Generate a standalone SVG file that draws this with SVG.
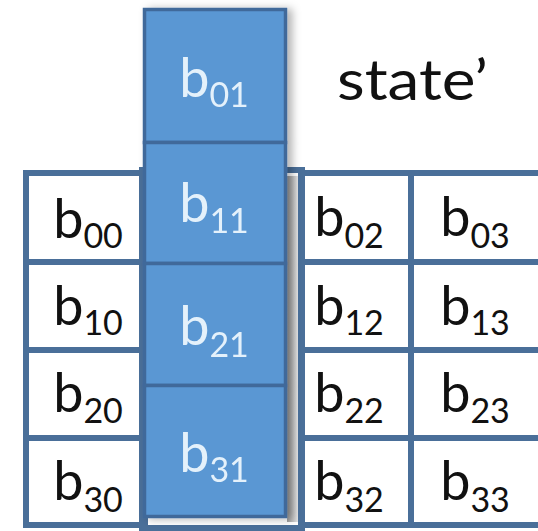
<svg xmlns="http://www.w3.org/2000/svg" width="538" height="531" viewBox="0 0 538 531">
  <style>
    .cell { fill: #ffffff; stroke: #4a6f99; stroke-width: 6; }
    .blue { fill: #5a97d3; stroke: #41699a; stroke-width: 3.5; }
    .lbl { font-family: Lato, "Liberation Sans", sans-serif; font-size: 54px; fill: #111111; text-anchor: middle; }
    .lblw { font-family: Lato, "Liberation Sans", sans-serif; font-size: 54px; fill: #e4f1fb; text-anchor: middle; }
    .sub { font-size: 34px; }
    .title { font-family: Lato, "Liberation Sans", sans-serif; font-size: 56px; fill: #111111; }
  </style>
  <defs>
    <filter id="shadow" x="-20%" y="-10%" width="140%" height="120%">
      <feDropShadow dx="5" dy="1" stdDeviation="4" flood-color="#000000" flood-opacity="0.3"/>
    </filter>
    <linearGradient id="gstrip" x1="0" y1="0" x2="1" y2="0">
      <stop offset="0" stop-color="#9c9c9c"/>
      <stop offset="1" stop-color="#e2e2e2"/>
    </linearGradient>
  </defs>
  <rect width="538" height="531" fill="#ffffff"/>

  <text class="title" x="337" y="100" textLength="151" lengthAdjust="spacingAndGlyphs">state’</text>

  <g id="grid">
    <g id="c00"><rect class="cell" x="26" y="173" width="119" height="89"/><text class="lbl" x="88" y="238">b<tspan class="sub" dy="10">00</tspan></text></g>
    <g id="c10"><rect class="cell" x="26" y="262" width="119" height="88"/><text class="lbl" x="88" y="325">b<tspan class="sub" dy="10">10</tspan></text></g>
    <g id="c20"><rect class="cell" x="26" y="350" width="119" height="88"/><text class="lbl" x="88" y="412">b<tspan class="sub" dy="11">20</tspan></text></g>
    <g id="c30"><rect class="cell" x="26" y="438" width="119" height="87"/><text class="lbl" x="88" y="500">b<tspan class="sub" dy="12">30</tspan></text></g>

    <g id="c02"><rect class="cell" x="301" y="173" width="110" height="89"/><text class="lbl" x="349" y="236">b<tspan class="sub" dy="12">02</tspan></text></g>
    <g id="c12"><rect class="cell" x="301" y="262" width="110" height="88"/><text class="lbl" x="349" y="325">b<tspan class="sub" dy="10">12</tspan></text></g>
    <g id="c22"><rect class="cell" x="301" y="350" width="110" height="88"/><text class="lbl" x="349" y="412">b<tspan class="sub" dy="11">22</tspan></text></g>
    <g id="c32"><rect class="cell" x="301" y="438" width="110" height="87"/><text class="lbl" x="349" y="500">b<tspan class="sub" dy="12">32</tspan></text></g>

    <g id="c03"><rect class="cell" x="411" y="173" width="132" height="89"/><text class="lbl" x="475" y="236">b<tspan class="sub" dy="12">03</tspan></text></g>
    <g id="c13"><rect class="cell" x="411" y="262" width="132" height="88"/><text class="lbl" x="475" y="325">b<tspan class="sub" dy="10">13</tspan></text></g>
    <g id="c23"><rect class="cell" x="411" y="350" width="132" height="88"/><text class="lbl" x="475" y="412">b<tspan class="sub" dy="11">23</tspan></text></g>
    <g id="c33"><rect class="cell" x="411" y="438" width="132" height="87"/><text class="lbl" x="475" y="500">b<tspan class="sub" dy="12">33</tspan></text></g>

    <rect x="142" y="170" width="160" height="358" fill="none" stroke="#4a6f99" stroke-width="6"/>
    <rect x="287" y="176" width="11" height="346" fill="url(#gstrip)"/>
  </g>

  <g id="shifted" filter="url(#shadow)">
    <g id="c01"><rect class="blue" x="144.5" y="9.5" width="141" height="133"/><text class="lblw" x="214" y="97">b<tspan class="sub" dy="10">01</tspan></text></g>
    <g id="c11"><rect class="blue" x="144.5" y="142.5" width="141" height="121"/><text class="lblw" x="214" y="222">b<tspan class="sub" dy="11">11</tspan></text></g>
    <g id="c21"><rect class="blue" x="144.5" y="263.5" width="141" height="122"/><text class="lblw" x="214" y="345">b<tspan class="sub" dy="12">21</tspan></text></g>
    <g id="c31"><rect class="blue" x="144.5" y="385.5" width="141" height="131"/><text class="lblw" x="214" y="472">b<tspan class="sub" dy="10">31</tspan></text></g>
  </g>
</svg>
